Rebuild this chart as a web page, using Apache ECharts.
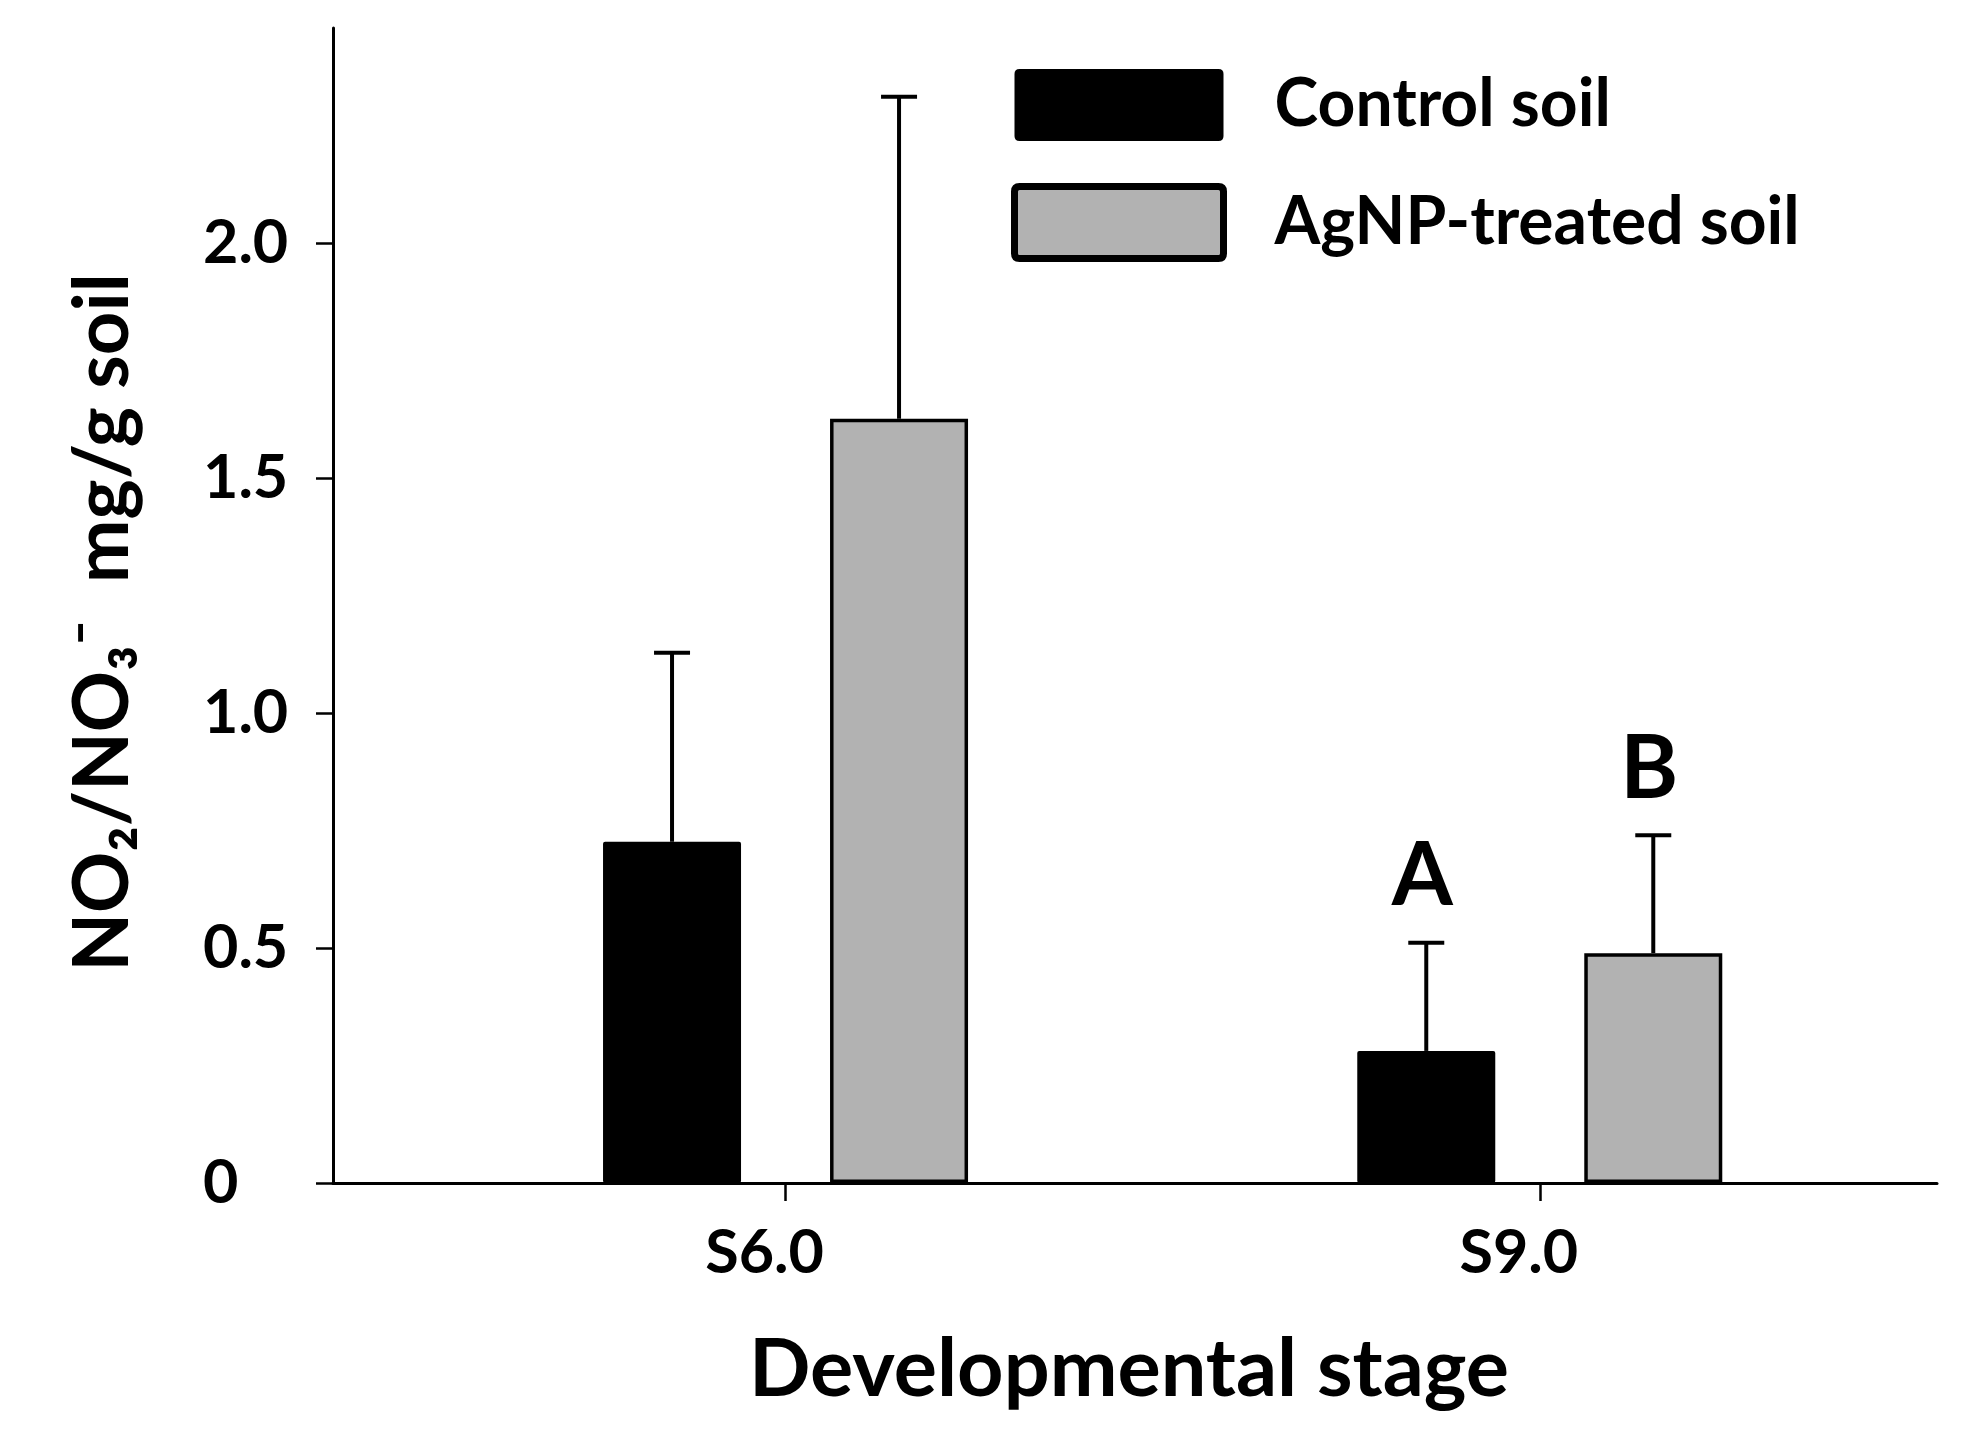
<!DOCTYPE html>
<html>
<head>
<meta charset="utf-8">
<script src="https://cdn.jsdelivr.net/npm/echarts@6/dist/echarts.min.js"></script>
<style>
html,body{margin:0;padding:0;background:#fff;}
#chart{width:1979px;height:1448px;}
</style>
</head>
<body>
<div id="chart"></div>
<script>
// ---- data ----
const stages = [6, 9];
const stageLabels = ['S6.0', 'S9.0'];
const seriesNames = ['Control soil', 'AgNP-treated soil'];
const controlMean = [0.726, 0.281];
const controlUpper = [1.128, 0.511];
const agnpMean = [1.626, 0.489];
const agnpUpper = [2.311, 0.740];
const controlLetters = ['', 'A'];
const agnpLetters = ['', 'B'];
const yTicks = [0, 0.5, 1.0, 1.5, 2.0];

// ---- style ----
const FONT = 'Lato, "Open Sans", "Noto Sans", sans-serif';
const BAR_W = 138;
const BAR_GAP = 0.645;
const CAP = 18;
const GREY = '#b2b2b2';
const LEGEND_ICON = 'path://M5,0H204Q209,0,209,5V67Q209,72,204,72H5Q0,72,0,67V5Q0,0,5,0Z';

const chart = echarts.init(document.getElementById('chart'), null, {renderer: 'canvas'});

function errSeries(means, uppers, letters, side) {
  const offset = side * (BAR_W + BAR_W * BAR_GAP) / 2;
  return {
    type: 'custom',
    z: 10,
    silent: true,
    data: stages.map((x, i) => [x, means[i], uppers[i]]),
    renderItem: function (params, api) {
      const x = api.value(0), m = api.value(1), u = api.value(2);
      const base = api.coord([x, m]);
      const top = api.coord([x, u]);
      const cx = base[0] + offset;
      const children = [
        {type: 'line', shape: {x1: cx, y1: base[1], x2: cx, y2: top[1]}, style: {stroke: '#000', lineWidth: 4}},
        {type: 'line', shape: {x1: cx - CAP, y1: top[1], x2: cx + CAP, y2: top[1]}, style: {stroke: '#000', lineWidth: 4}}
      ];
      const letter = letters[params.dataIndex];
      if (letter) {
        children.push({
          type: 'text',
          style: {
            text: letter, x: cx - 4, y: top[1] - 66,
            align: 'center', verticalAlign: 'middle',
            font: 'bold 88px ' + FONT, fill: '#000'
          }
        });
      }
      return {type: 'group', children: children};
    }
  };
}

const option = {
  animation: false,
  backgroundColor: '#fff',
  grid: {left: 333, right: 42, top: 28, bottom: 265, containLabel: false},
  legend: {
    orient: 'vertical',
    left: 1011, top: 69,
    padding: 0,
    itemWidth: 209, itemHeight: 72, itemGap: 42,
    icon: LEGEND_ICON,
    selectedMode: false,
    textStyle: {fontFamily: FONT, fontWeight: 'bold', fontSize: 66, color: '#000', padding: [0, 0, 0, 46]},
    data: [
      {name: seriesNames[0], itemStyle: {color: '#000', borderColor: '#000', borderWidth: 0}},
      {name: seriesNames[1], itemStyle: {color: GREY, borderColor: '#000', borderWidth: 7}}
    ]
  },
  xAxis: {
    type: 'value',
    min: 4.2, max: 10.58,
    splitLine: {show: false},
    axisLine: {show: true, onZero: false, lineStyle: {color: '#000', width: 3}},
    axisTick: {show: true, customValues: stages, length: 18, inside: false, lineStyle: {color: '#000', width: 2.5}},
    axisLabel: {
      customValues: stages,
      formatter: v => stageLabels[stages.indexOf(v)],
      fontFamily: FONT, fontWeight: 'bold', fontSize: 61, color: '#000',
      margin: 40, padding: [0, 42, 0, 0]
    },
    name: 'Developmental stage',
    nameLocation: 'middle',
    nameGap: 146,
    nameTextStyle: {fontFamily: FONT, fontWeight: 'bold', fontSize: 81, color: '#000', padding: [0, 12, 0, 0]}
  },
  yAxis: {
    type: 'value',
    min: 0, max: 2.457,
    splitLine: {show: false},
    axisLine: {show: true, lineStyle: {color: '#000', width: 3}},
    axisTick: {show: true, customValues: yTicks, length: 17, inside: false, lineStyle: {color: '#000', width: 2.5}},
    axisLabel: {
      customValues: yTicks,
      formatter: v => (v === 0 ? '0' : v.toFixed(1)),
      align: 'left', margin: 130,
      fontFamily: FONT, fontWeight: 'bold', fontSize: 61, color: '#000'
    },
    name: 'NO\u2082/NO\u2083\u207B  mg/g soil',
    nameLocation: 'middle',
    nameRotate: 90,
    nameGap: 192,
    nameTextStyle: {fontFamily: FONT, fontWeight: 'bold', fontSize: 76, color: '#000', padding: [0, 34, 0, 0]}
  },
  series: [
    {
      name: seriesNames[0], type: 'bar',
      barWidth: BAR_W, barGap: (BAR_GAP * 100) + '%',
      itemStyle: {color: '#000', borderRadius: 2},
      data: stages.map((x, i) => [x, controlMean[i]])
    },
    {
      name: seriesNames[1], type: 'bar',
      barWidth: BAR_W, barGap: (BAR_GAP * 100) + '%',
      itemStyle: {color: GREY, borderColor: '#000', borderWidth: 3.5},
      data: stages.map((x, i) => [x, agnpMean[i]])
    },
    errSeries(controlMean, controlUpper, controlLetters, -1),
    errSeries(agnpMean, agnpUpper, agnpLetters, 1)
  ]
};
chart.setOption(option);
</script>
</body>
</html>
